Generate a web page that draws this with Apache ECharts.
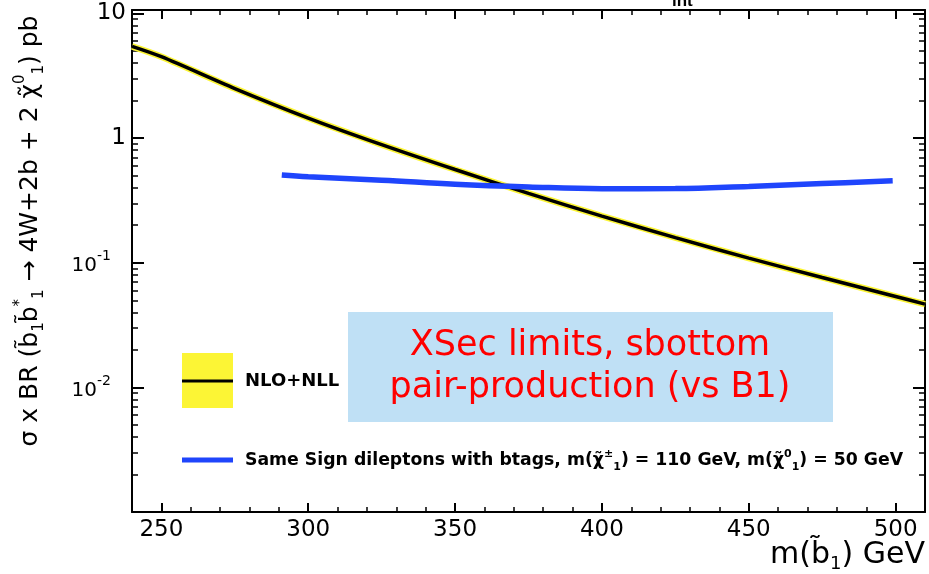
<!DOCTYPE html>
<html>
<head>
<meta charset="utf-8">
<script src="https://cdn.jsdelivr.net/npm/echarts@6/dist/echarts.min.js"></script>
<style>
  html, body { margin: 0; padding: 0; background: #fff; }
  #chart { width: 929px; height: 574px; }
</style>
</head>
<body>
<div id="chart"></div>
<script>
// NLO+NLL sbottom pair-production cross section (pb) vs sbottom mass (GeV)
const nloMass = [240, 250, 275, 300, 325, 350, 375, 400, 425, 450, 475, 500, 510];
const nloXsec = [5.45, 4.50, 2.50, 1.45, 0.887, 0.560, 0.360, 0.237, 0.159, 0.109, 0.0762, 0.0536, 0.0466];

// Same-sign dilepton + btag cross-section limit (pb)
const ssMass = [291, 300, 325, 350, 375, 400, 425, 450, 475, 499];
const ssXsec = [0.505, 0.489, 0.460, 0.427, 0.406, 0.393, 0.394, 0.410, 0.432, 0.454];

// Axis ticks
const xMajorTicks = [250, 300, 350, 400, 450, 500];
const yMajorTicks = [0.01, 0.1, 1, 10];
const yMinorTicks = [];
[0.001, 0.01, 0.1, 1].forEach(function (d) {
  for (let k = 2; k <= 9; k++) yMinorTicks.push(+(k * d).toPrecision(3));
});

const X_MIN = 240, X_MAX = 510;
const Y_MIN = 0.001, Y_MAX = 10.67;

const pairs = (xs, ys) => xs.map((x, i) => [x, ys[i]]);

const FONT = 'DejaVu Sans';
const BOLD = { fontFamily: FONT, fontWeight: 'bold', fontSize: 18, fill: '#000' };

function xAxisDef(position, major) {
  return {
    type: 'value', min: X_MIN, max: X_MAX, position: position,
    interval: major ? undefined : 10,
    axisLine: { show: major, onZero: false, lineStyle: { color: '#000', width: 2 } },
    axisTick: major
      ? { inside: true, length: 9, customValues: xMajorTicks, lineStyle: { color: '#000', width: 2 } }
      : { inside: true, length: 5, lineStyle: { color: '#000', width: 1.5 } },
    axisLabel: (major && position === 'bottom')
      ? { customValues: xMajorTicks, margin: 7, color: '#000', fontFamily: FONT, fontSize: 23 }
      : { show: false },
    splitLine: { show: false }
  };
}

function yAxisDef(position, major) {
  return {
    type: 'log', logBase: 10, min: Y_MIN, max: Y_MAX, position: position,
    axisLine: { show: major, onZero: false, lineStyle: { color: '#000', width: 2 } },
    axisTick: major
      ? { inside: true, length: 12, customValues: yMajorTicks, lineStyle: { color: '#000', width: 2 } }
      : { inside: true, length: 6, customValues: yMinorTicks, lineStyle: { color: '#000', width: 1.5 } },
    axisLabel: (major && position === 'left')
      ? {
          customValues: yMajorTicks, margin: 6,
          formatter: function (v) {
            if (v >= 1) return '{b|' + Math.round(v) + '}';
            return '{m|10}{e|' + Math.round(Math.log10(v)) + '}';
          },
          rich: {
            b: { fontFamily: FONT, fontSize: 23, color: '#000', lineHeight: 26 },
            m: { fontFamily: FONT, fontSize: 20, color: '#000', lineHeight: 26, verticalAlign: 'bottom' },
            e: { fontFamily: FONT, fontSize: 14, color: '#000', lineHeight: 16, verticalAlign: 'top', padding: [0, 15, 0, 0] }
          }
        }
      : { show: false },
    splitLine: { show: false }
  };
}

const chart = echarts.init(document.getElementById('chart'), null, { renderer: 'canvas' });

chart.setOption({
  backgroundColor: '#fff',
  animation: false,
  grid: { left: 132, right: 4, top: 10, bottom: 62, containLabel: false, outerBoundsMode: 'none' },
  xAxis: [
    xAxisDef('bottom', true), xAxisDef('bottom', false),
    xAxisDef('top', true), xAxisDef('top', false)
  ],
  yAxis: [
    yAxisDef('left', true), yAxisDef('left', false),
    yAxisDef('right', true), yAxisDef('right', false)
  ],
  series: [
    {
      name: 'NLO+NLL band', type: 'line', data: pairs(nloMass, nloXsec),
      xAxisIndex: 0, yAxisIndex: 0, symbol: 'none', smooth: 0.3,
      lineStyle: { color: '#fcf535', width: 6.5 }, z: 2
    },
    {
      name: 'NLO+NLL', type: 'line', data: pairs(nloMass, nloXsec),
      xAxisIndex: 0, yAxisIndex: 0, symbol: 'none', smooth: 0.3,
      lineStyle: { color: '#000', width: 3.5 }, z: 3
    },
    {
      name: 'Same Sign dileptons with btags', type: 'line', data: pairs(ssMass, ssXsec),
      xAxisIndex: 0, yAxisIndex: 0, symbol: 'none', smooth: 0.4,
      lineStyle: { color: '#1f45fc', width: 5.5, cap: 'butt' }, z: 4
    }
  ],
  graphic: [
    // header fragment at the top edge
    { type: 'text', left: 672, top: -7, z: 10,
      style: { text: 'int', fontFamily: 'Liberation Sans', fontWeight: 'bold', fontSize: 17, fill: '#000' } },

    // legend: NLO+NLL
    { type: 'rect', shape: { x: 182, y: 353, width: 51, height: 55 }, style: { fill: '#fcf535' }, z: 10 },
    { type: 'line', shape: { x1: 182, y1: 381, x2: 233, y2: 381 }, style: { stroke: '#000', lineWidth: 3 }, z: 11 },
    { type: 'text', x: 245, y: 381, z: 10,
      style: Object.assign({ text: 'NLO+NLL', verticalAlign: 'middle' }, BOLD) },

    // legend: same-sign dilepton limit
    { type: 'line', shape: { x1: 182, y1: 460, x2: 233, y2: 460 }, style: { stroke: '#1f45fc', lineWidth: 5 }, z: 10 },
    { type: 'text', x: 245, y: 461, z: 10,
      style: {
        text: '{t|Same Sign dileptons with btags, m(χ̃}{sup|±}{sub|1}{t|) = 110 GeV, m(χ̃}{sup|0}{sub|1}{t|) = 50 GeV}',
        verticalAlign: 'middle',
        rich: {
          t: { fontFamily: FONT, fontWeight: 'bold', fontSize: 17.3, fill: '#000', lineHeight: 24 },
          sup: { fontFamily: FONT, fontWeight: 'bold', fontSize: 11, fill: '#000', lineHeight: 12, verticalAlign: 'top' },
          sub: { fontFamily: FONT, fontWeight: 'bold', fontSize: 11, fill: '#000', lineHeight: 12, verticalAlign: 'bottom' }
        }
      } },

    // annotation box
    { type: 'rect', shape: { x: 348, y: 312, width: 485, height: 110 }, style: { fill: '#bfe0f5' }, z: 12 },
    { type: 'text', x: 590, y: 346, z: 13,
      style: { text: 'XSec limits, sbottom', align: 'center', verticalAlign: 'middle',
               fontFamily: FONT, fontSize: 35, fill: '#ff0000' } },
    { type: 'text', x: 590, y: 388, z: 13,
      style: { text: 'pair-production (vs B1)', align: 'center', verticalAlign: 'middle',
               fontFamily: FONT, fontSize: 35, fill: '#ff0000' } },

    // x axis title
    { type: 'text', x: 925, y: 555, z: 10,
      style: {
        text: '{t|m(b̃}{sub|1}{t|) GeV}', align: 'right', verticalAlign: 'middle',
        rich: {
          t: { fontFamily: FONT, fontSize: 30, fill: '#000', lineHeight: 36 },
          sub: { fontFamily: FONT, fontSize: 18, fill: '#000', lineHeight: 20, verticalAlign: 'bottom' }
        }
      } },

    // y axis title
    { type: 'text', x: 30, y: 231, rotation: Math.PI / 2, z: 10,
      style: {
        text: '{t|σ x BR (b̃}{sub|1}{t|b̃}{sup|*}{sub|1}{t| → 4W+2b + 2 χ̃}{sup|0}{sub|1}{t|) pb}',
        align: 'center', verticalAlign: 'middle',
        rich: {
          t: { fontFamily: FONT, fontSize: 25, fill: '#000', lineHeight: 34 },
          sup: { fontFamily: FONT, fontSize: 15, fill: '#000', lineHeight: 18, verticalAlign: 'top' },
          sub: { fontFamily: FONT, fontSize: 15, fill: '#000', lineHeight: 18, verticalAlign: 'bottom' }
        }
      } }
  ]
});
</script>
</body>
</html>
